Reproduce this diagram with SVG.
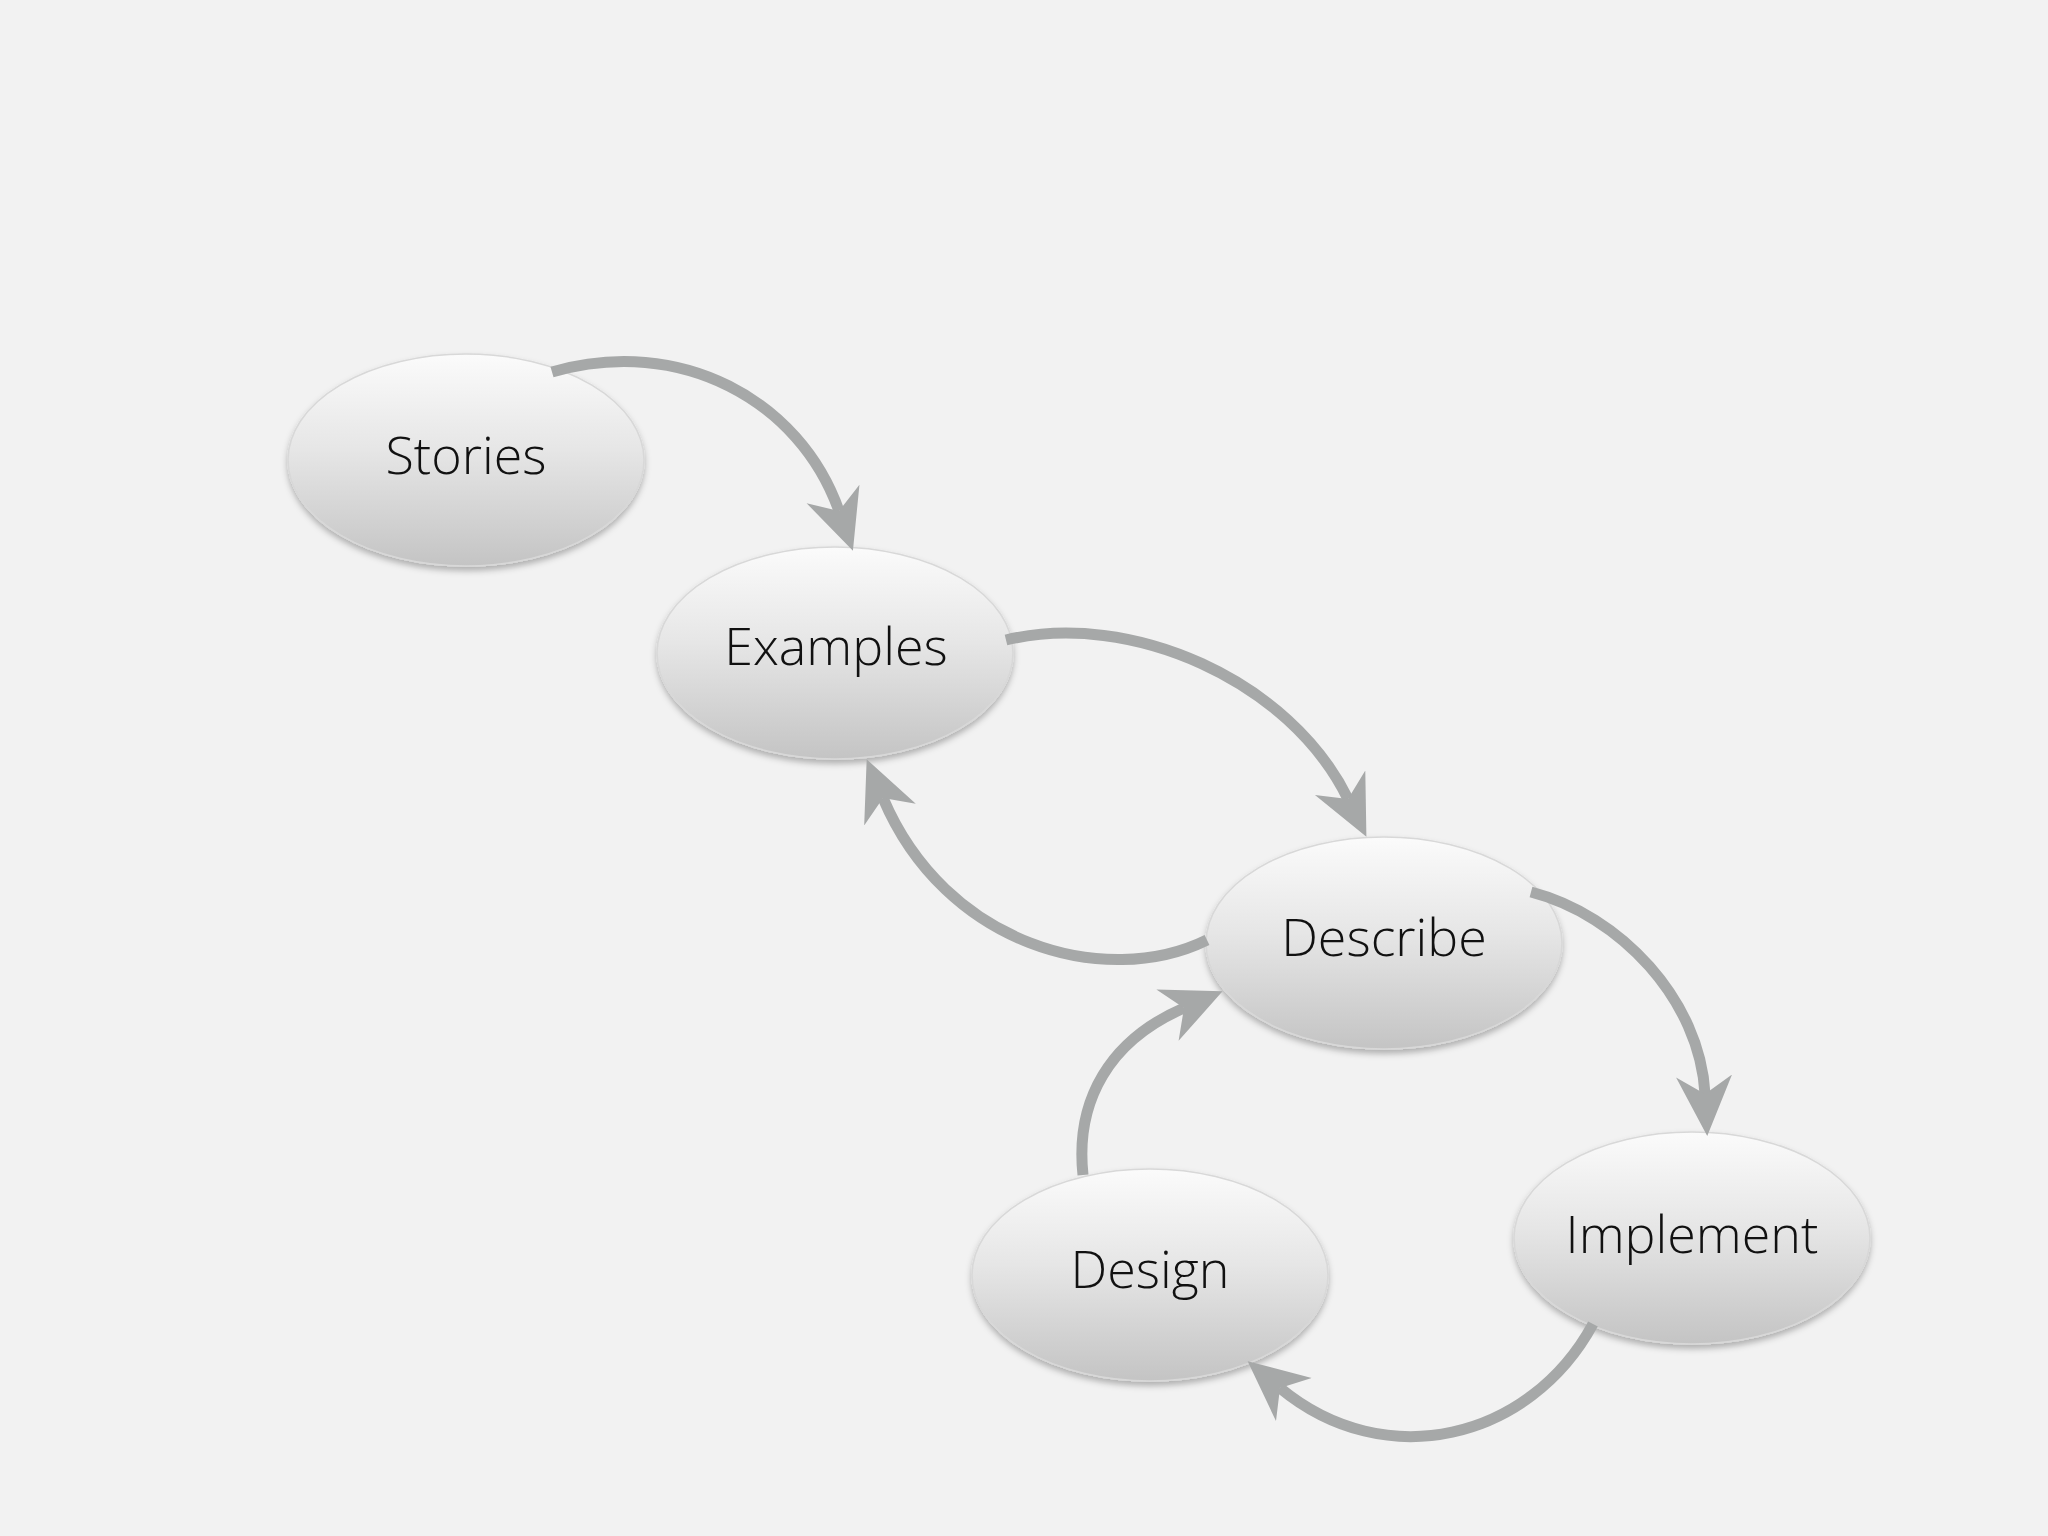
<svg xmlns="http://www.w3.org/2000/svg" width="2048" height="1536" viewBox="0 0 2048 1536">
<defs>
<linearGradient id="g" x1="0" y1="0" x2="0" y2="1">
<stop offset="0" stop-color="#fbfbfb"/>
<stop offset="0.45" stop-color="#e6e6e6"/>
<stop offset="1" stop-color="#c4c4c4"/>
</linearGradient>
<filter id="sh" x="-20%" y="-20%" width="140%" height="150%">
<feDropShadow dx="0" dy="4" stdDeviation="3" flood-color="#000" flood-opacity="0.28"/>
</filter>
<marker id="ah" markerUnits="userSpaceOnUse" markerWidth="70" markerHeight="70" viewBox="0 0 70 70" refX="18" refY="28" orient="auto">
<path d="M0,0 L60,28 L0,56 L18,28 Z" fill="#a6a8a8"/>
</marker>
<style>
.node ellipse{fill:url(#g);stroke:#d8d8d8;stroke-width:1.5;filter:url(#sh);}
.node text{font-family:"Open Sans","Liberation Sans",sans-serif;font-weight:300;font-size:52px;fill:#111;text-anchor:middle;}
.edge{fill:none;stroke:#a6a8a8;stroke-width:11;marker-end:url(#ah);}
</style>
</defs>
<rect width="2048" height="1536" fill="#f2f2f2"/>
<g id="n-stories" class="node"><ellipse cx="466" cy="460" rx="178" ry="106"/><text x="466" y="474">Stories</text></g>
<g id="n-examples" class="node"><ellipse cx="835" cy="653" rx="178" ry="106"/><text x="836" y="665">Examples</text></g>
<g id="n-describe" class="node"><ellipse cx="1384" cy="943" rx="178" ry="106"/><text x="1384" y="956">Describe</text></g>
<g id="n-implement" class="node"><ellipse cx="1692" cy="1238" rx="178" ry="106"/><text x="1692" y="1253">Implement</text></g>
<g id="n-design" class="node"><ellipse cx="1150" cy="1275" rx="178" ry="106"/><text x="1150" y="1288">Design</text></g>
<g id="connectors">
<path class="edge" d="M552,372 C680,335 800,400 839,511"/>
<path class="edge" d="M1006,640 C1130,610 1290,680 1348,799"/>
<path class="edge" d="M1207,940 C1105,990 945,945 883,798"/>
<path class="edge" d="M1531,892 C1620,915 1700,1000 1705,1094"/>
<path class="edge" d="M1083,1175 C1075,1100 1110,1040 1184,1008"/>
<path class="edge" d="M1593,1324 C1530,1440 1385,1475 1280,1388"/>
</g>
</svg>
